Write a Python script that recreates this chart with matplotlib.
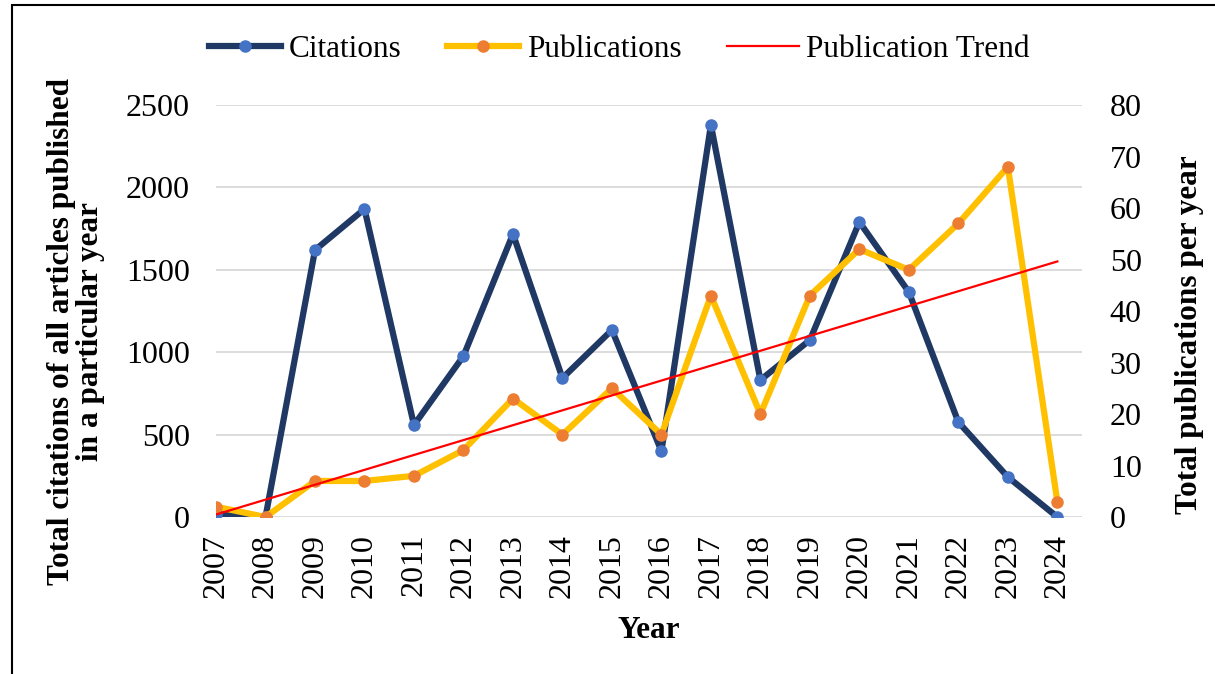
import matplotlib.pyplot as plt
import numpy as np
from matplotlib.lines import Line2D
from matplotlib.patches import Rectangle

plt.rcParams['font.family'] = ['Liberation Serif', 'DejaVu Serif']

# data
years = [2007, 2008, 2009, 2010, 2011, 2012, 2013, 2014, 2015,
         2016, 2017, 2018, 2019, 2020, 2021, 2022, 2023, 2024]
citations = [20, 0, 1620, 1869, 558, 977, 1717, 843, 1135,
             400, 2379, 831, 1074, 1790, 1365, 576, 243, 0]
publications = [2, 0, 7, 7, 8, 13, 23, 16, 25,
                16, 43, 20, 43, 52, 48, 57, 68, 3]

x = np.arange(len(years))

# linear trend of publications (Excel style trendline)
slope, icpt = np.polyfit(x, publications, 1)
trend = slope * x + icpt

FS = 23

fig = plt.figure(figsize=(12.15, 6.74), dpi=100)
ax = fig.add_axes([0.1778, 0.2329, 0.7128, 0.6113])
ax2 = ax.twinx()

# gridlines on left axis
ax.set_ylim(0, 2500)
ax.set_yticks(range(0, 2501, 500))
ax.yaxis.grid(True, color='#D9D9D9', linewidth=1.3)
ax.set_axisbelow(True)
ax.set_xlim(0, 17.5)

ax.plot(x, citations, color='#203864', linewidth=4.5, marker='o',
        markersize=8, markerfacecolor='#4472C4', markeredgecolor='#4472C4',
        zorder=3)
ax2.plot(x, publications, color='#FFC000', linewidth=4.5, marker='o',
         markersize=8, markerfacecolor='#ED7D31', markeredgecolor='#ED7D31',
         zorder=3)
ax2.plot(x, trend, color='#FF0000', linewidth=1.6, zorder=4)
ax2.set_ylim(0, 80)
ax2.set_yticks(range(0, 81, 10))

ax.set_xticks(x)
ax.set_xticklabels([str(y) for y in years], rotation=90)

for a in (ax, ax2):
    for s in a.spines.values():
        s.set_visible(False)
    a.tick_params(length=0, labelsize=FS, colors='black')
ax.tick_params(axis='y', pad=19)
ax.tick_params(axis='x', pad=12)
ax2.tick_params(axis='y', pad=20)

ax.set_xlabel('Year', fontsize=22.5, fontweight='bold', labelpad=13)
ax.set_ylabel('Total citations of all articles published\nin a particular year',
              fontsize=22.5, fontweight='bold', linespacing=1.0)
ax.yaxis.set_label_coords(-0.128, 0.45)
ax2.set_ylabel('Total publications per year', fontsize=22.5,
               fontweight='bold')
ax2.yaxis.set_label_coords(1.107, 0.442)

handles = [
    Line2D([], [], color='#203864', linewidth=4.5, marker='o', markersize=8,
           markerfacecolor='#4472C4', markeredgecolor='#4472C4'),
    Line2D([], [], color='#FFC000', linewidth=4.5, marker='o', markersize=8,
           markerfacecolor='#ED7D31', markeredgecolor='#ED7D31'),
    Line2D([], [], color='#FF0000', linewidth=1.6),
]
fig.legend(handles, ['Citations', 'Publications', 'Publication Trend'],
           loc='center', bbox_to_anchor=(0.51, 0.926), ncol=3, frameon=False,
           fontsize=22.5, handlelength=2.3, columnspacing=1.45,
           handletextpad=0.25)

# outer border
fig.patches.append(Rectangle((12 / 1215, -0.05), 1.1, 1 - 5 / 674 + 0.05,
                             transform=fig.transFigure, fill=False,
                             edgecolor='black', linewidth=1.5))

fig.savefig('out.png', dpi=100)
